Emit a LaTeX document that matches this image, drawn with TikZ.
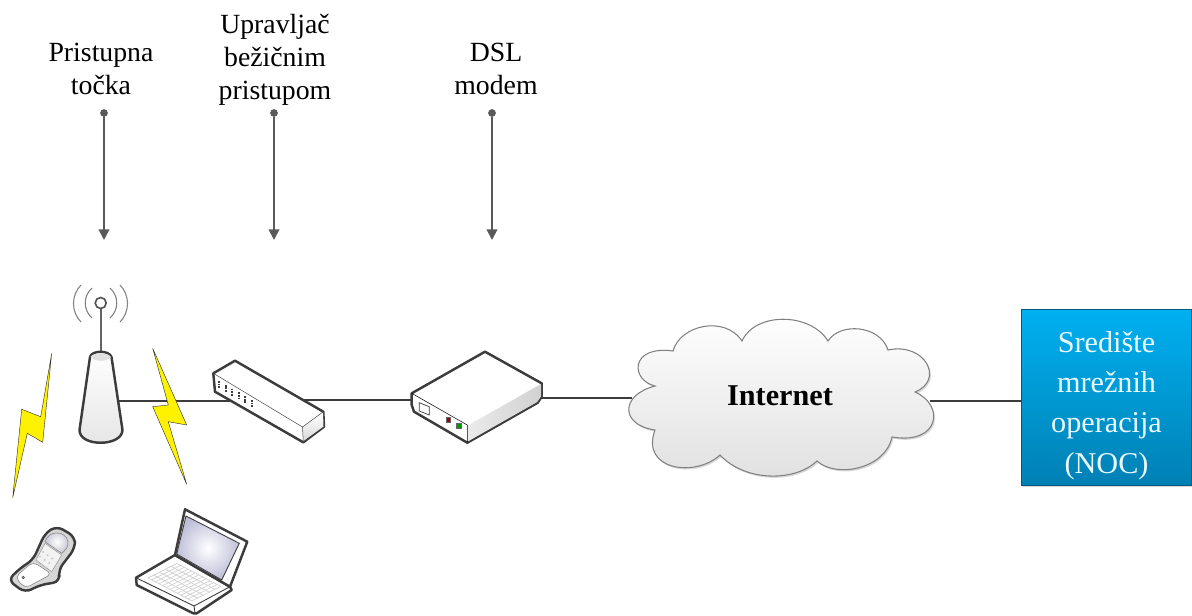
\documentclass[tikz,border=0pt]{standalone}
\usepackage{fontspec}
\setmainfont{Liberation Serif}
\usetikzlibrary{arrows.meta,calc,shadows}
\definecolor{pingray}{HTML}{595959}
\definecolor{devline}{HTML}{3C3C3C}
\definecolor{nocblue}{HTML}{00B0F0}
\definecolor{nocdeep}{HTML}{0080B4}
\tikzset{
	caption/.style={align=center,font=\fontsize{15.8}{18.7}\selectfont},
	pindot/.style={circle,fill=pingray,inner sep=0pt,minimum size=4.4pt},
	pin/.style={draw=pingray,line width=1pt,-{Triangle[width=6pt,length=6pt]}},
	port/.style={inner sep=0pt,minimum size=0pt},
	link/.style={draw=devline,line width=1.1pt},
	dev/.style={draw=devline,line width=1.4pt,line join=round},
	bolt/.style={draw=black!80,line width=0.25pt,fill=yellow,line join=miter},
	wave/.style={draw=gray,line width=0.6pt},
	softshadow/.style={general shadow={shadow xshift=0.8pt,shadow yshift=-1pt,fill=black,opacity=0.15}},
	nocbox/.style={draw=nocdeep!70!black,line width=0.6pt,top color=nocblue,bottom color=nocdeep,softshadow,
		minimum width=3.42cm,minimum height=3.5cm,align=center,text=white!92!nocblue,font=\fontsize{17.2}{23}\selectfont},
}
\begin{document}
\begin{tikzpicture}[x=0.02cm,y=-0.02cm]
	\useasboundingbox (0,0) rectangle (1192,615);
	% labels and pins
	\node[caption] (aplabel) at (101,69) {Pristupna\\točka};
	\node[caption] (ctrllabel) at (275,60) {Upravljač\\bežičnim\\pristupom};
	\node[caption] (dsllabel) at (496,69) {DSL\\modem};
	\node[pindot] (apdot) at (104,113) {};
	\node[pindot] (ctrldot) at (274,113) {};
	\node[pindot] (dsldot) at (492,113) {};
	\coordinate (aptip) at (104,240);
	\coordinate (ctrltip) at (274,240);
	\coordinate (dsltip) at (492,240);
	\draw[pin] (apdot) -- (aptip);
	\draw[pin] (ctrldot) -- (ctrltip);
	\draw[pin] (dsldot) -- (dsltip);
	% connectors
	\node[port] (apport) at (118,401) {};
	\node[port] (ctrlin) at (232,401) {};
	\node[port] (ctrlout) at (303,400) {};
	\node[port] (dslin) at (412,400) {};
	\node[port] (dslout) at (540,398) {};
	\node[port] (cloudin) at (632,398) {};
	\node[port] (cloudout) at (930,401) {};
	\draw[link] (apport) -- (ctrlin);
	\draw[link] (ctrlout) -- (dslin);
	\draw[link] (dslout) -- (cloudin);
	\node[nocbox] (noc) at (1106.5,397.5) {\rule{0pt}{21pt}Središte\\mrežnih\\operacija\\(NOC)};
	\draw[link] (cloudout) -- (cloudout-|noc.west);
	% cloud
	\path[draw=gray,line width=0.6pt,top color=white,bottom color=black!12,softshadow]
		(655,386) .. controls (630,380) and (630,345) .. (673,351)
		.. controls (680,325) and (725,315) .. (742,341)
		.. controls (755,312) and (810,312) .. (828,341)
		.. controls (840,322) and (880,325) .. (888,350)
		.. controls (925,342) and (945,380) .. (915,392)
		.. controls (945,405) and (940,445) .. (892,437)
		.. controls (885,470) and (835,478) .. (817,461)
		.. controls (795,482) and (745,482) .. (720,455)
		.. controls (695,478) and (640,470) .. (655,430)
		.. controls (620,425) and (620,395) .. (655,386) -- cycle;
	\node[font=\bfseries\fontsize{17.2}{20}\selectfont] (internet) at (780,396) {Internet};
	% access point
	\draw[wave] (92,288) .. controls (83,296) and (83,310) .. (92,318);
	\draw[wave] (81,285) .. controls (71,295) and (71,312) .. (81,322);
	\draw[wave] (110,288) .. controls (119,296) and (119,310) .. (110,318);
	\draw[wave] (120,285) .. controls (130,295) and (130,312) .. (120,322);
	\draw[devline!80,line width=1pt] (100.7,308) -- (100.7,352);
	\draw[devline!90,line width=0.9pt,fill=white] (100.7,303) circle (5.5);
	\path[dev,top color=white,bottom color=black!10] (90,357) -- (79.5,430)
		.. controls (79,447) and (122,447) .. (122.5,430) -- (111.5,357)
		.. controls (109,350) and (92,350) .. (90,357) -- cycle;
	\fill[black!12] (90.5,357) .. controls (94,362) and (108,362) .. (111,357)
		.. controls (108,352) and (93,352) .. (90.5,357) -- cycle;
	% lightning
	\path[bolt] (51.7,353.3) -- (40.7,416.7) -- (21.7,409.3) -- (12.7,497.7) -- (27.3,433.3) -- (42.7,442.3) -- cycle;
	\path[bolt] (152.7,348.3) -- (168.3,405) -- (152.7,406.7) -- (186.7,484.3) -- (168.3,421.7) -- (186.7,425) -- cycle;
	% wireless controller
	\path[dev,fill=white] (213.3,373.3) -- (235,360.7) -- (323.3,411.7) -- (324,426.7) -- (303.3,442.3) -- (215,391.7) -- cycle;
	\path[top color=white,bottom color=black!15] (302.5,427) -- (323,412.5) -- (323.5,426.5) -- (303.5,441) -- cycle;
	\draw[black!70,line width=0.3pt] (213.3,373.3) -- (302.5,427) -- (323.3,411.7);
	\draw[black!70,line width=0.3pt] (302.5,427) -- (303.3,442.3);
	\foreach \k in {0,...,5}
		\draw[devline,line width=1.2pt,dash pattern=on 1pt off 0.5pt] ({219+6.6*\k},{381+3.8*\k}) -- ++(0,7);
	% dsl modem
	\path[dev,fill=white] (485,351.7) -- (541.7,383.3) -- (541.7,396.7) -- (537.7,402.7) -- (467.3,442.7) -- (414,411.7) -- (411.7,405) -- (411.7,393.3) -- cycle;
	\path[left color=black!8,right color=black!18] (467.8,425.5) -- (541,384) -- (541,396.5) -- (537.2,402) -- (467.8,441.5) -- cycle;
	\draw[black,line width=0.3pt] (411.7,393.3) -- (467.3,425) -- (467.3,442.7);
	\draw[devline,line width=0.4pt,fill=white] (419.3,402.7) -- (429.3,406.7) -- (429.3,415) -- (419.3,411) -- cycle;
	\draw[black!60,line width=0.3pt,fill=red!60!black] (446.6,417.5) rectangle (450,422.5);
	\draw[black!60,line width=0.3pt,fill=green!60!black] (456.5,423) rectangle (461.5,428.5);
	% phone
	\path[dev,fill=black!16,rounded corners=4] (21,567.5) -- (33,560) -- (45,533.3) -- (56.7,526) -- (75,536.7) -- (75,548.3) -- (58.3,570) -- (60,581.7) -- (40,585) -- (25,592.7) -- (8,580) -- cycle;
	\path[draw=black!50,line width=0.3pt,fill=white,rounded corners=3] (24,569.5) -- (33,561.7) -- (51.7,574) -- (25,588.3) -- (15,577) -- cycle;
	\path[draw=black!40,line width=0.3pt,fill=black!5] (36,560) -- (45,543.3) -- (61.7,555) -- (51.7,571.7) -- cycle;
	\foreach \k in {0,1,2}
		\foreach \m in {0,1,2}
			\fill[black!22] ({43+4.6*\k-3*\m},{552+3.2*\k+4.6*\m}) circle (1.1);
	\path[draw=black!50,line width=0.3pt,inner color=white,outer color=blue!25!black!22] (45,541.7) .. controls (48,530) and (66,530) .. (68,541.7) .. controls (69,546) and (65,551) .. (61.7,553.3) -- cycle;
	\draw[black!70,line width=0.3pt,fill=black!30] (23.3,577.5) circle (1.2);
	% laptop
	\path[dev,fill=white] (175,555) -- (136,577.7) -- (136.7,585) -- (193.3,613.3) -- (196.7,613.3) -- (231.7,590) -- (230,586.7) -- cycle;
	\draw[devline,line width=0.5pt] (136,577.7) -- (194,606) -- (230,586.7);
	\draw[devline,line width=0.5pt] (194,606) -- (195,613);
	\coordinate (keya) at (177,563.5);
	\coordinate (keyb) at (221,586.5);
	\coordinate (keyc) at (192,601);
	\coordinate (keyd) at (148,578);
	\foreach \t in {0,0.2,0.4,0.6,0.8,1}
		\draw[black!18,line width=0.4pt] ($(keya)!\t!(keyd)$) -- ($(keyb)!\t!(keyc)$);
	\foreach \t in {0,0.083,...,1.01}
		\draw[black!18,line width=0.4pt] ($(keya)!\t!(keyb)$) -- ($(keyd)!\t!(keyc)$);
	\path[dev,fill=white] (185,509.3) -- (247.3,541.7) -- (230,586.7) -- (175,555) -- cycle;
	\path[draw=devline,line width=0.5pt,inner color=white,outer color=blue!40!black!25] (186,516) -- (239.3,543.3) -- (221.7,580) -- (176.7,554) -- cycle;
\end{tikzpicture}
\end{document}
